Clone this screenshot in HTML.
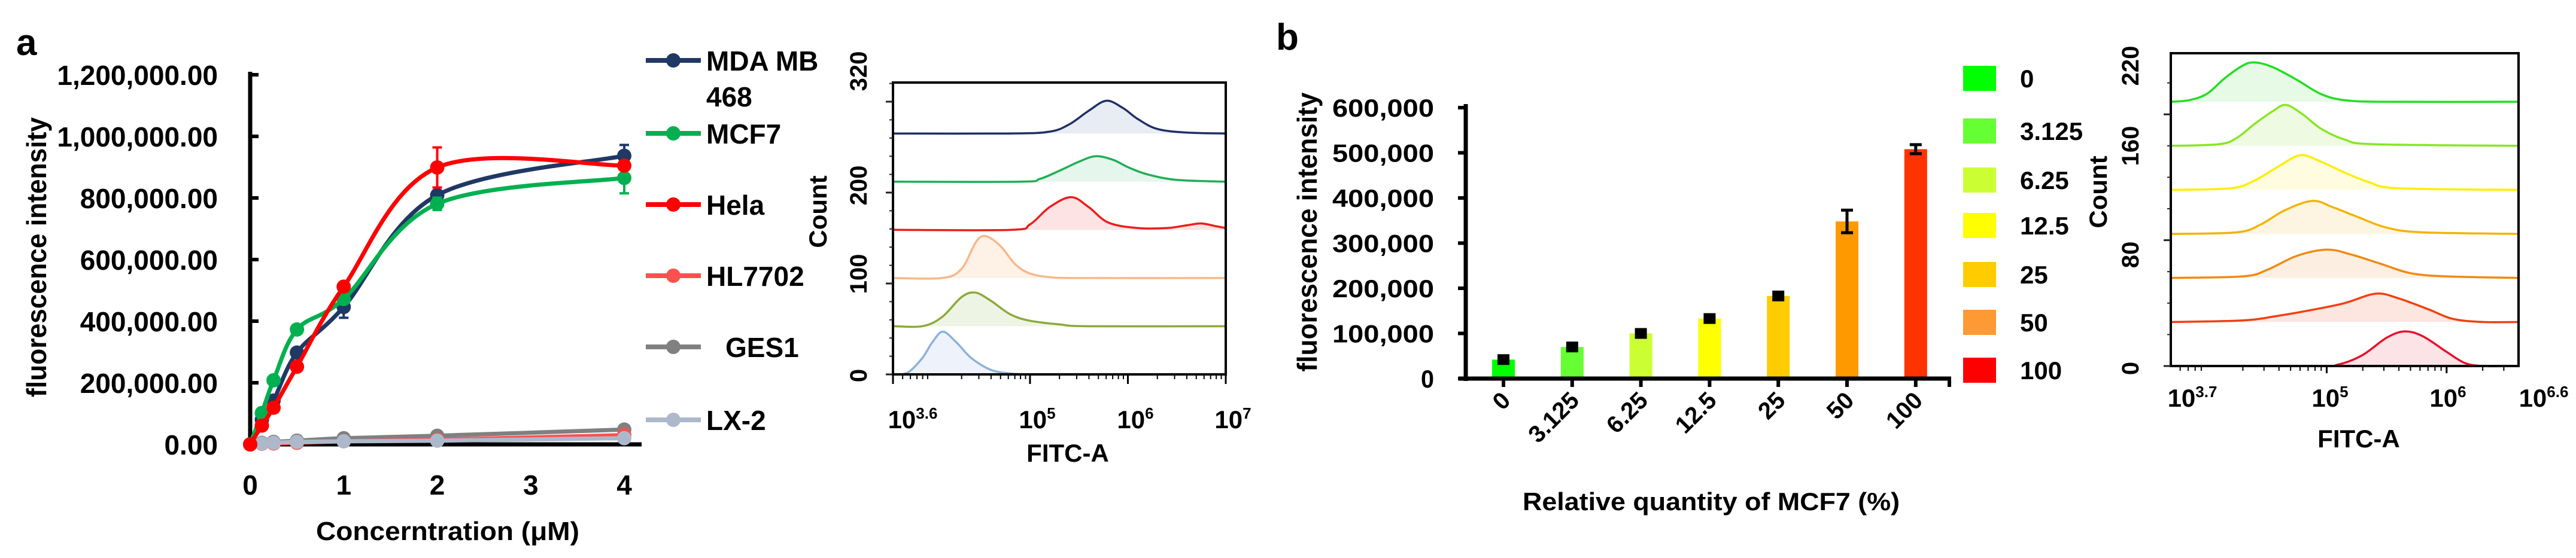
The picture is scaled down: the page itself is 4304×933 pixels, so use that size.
<!DOCTYPE html>
<html><head><meta charset="utf-8"><style>
html,body{margin:0;padding:0;background:#fff;}
svg{display:block;font-family:"Liberation Sans",sans-serif;font-weight:bold;}
</style></head><body>
<svg id="s" width="4304" height="933" viewBox="0 0 4304 933" xmlns="http://www.w3.org/2000/svg">
<text x="27" y="92" font-size="62">a</text>
<text x="2132" y="83" font-size="62">b</text>
<g id="pa"></g>
<g id="h1"></g>
<g id="pb"></g>
<g id="h2"></g>
</svg>
<script>
// ---- panel a line chart data ----
const concX = [0, 0.125, 0.25, 0.5, 1, 2, 4];
const seriesNames = ["MDA MB 468", "MCF7", "Hela", "HL7702", "GES1", "LX-2"];
const seriesColors = ["#203864", "#00b050", "#ff0000", "#ff5050", "#808080", "#adb9ca"];
const mdaVals = [0, 80000, 142000, 298000, 446000, 809000, 937000];
const mcf7Vals = [0, 102000, 208000, 373000, 472000, 781000, 865000];
const helaVals = [0, 61000, 119000, 252000, 512000, 899000, 905000];
const hl7702Vals = [0, 2000, 3000, 5000, 10000, 15000, 30000];
const ges1Vals = [0, 5000, 8000, 12000, 20000, 28000, 48000];
const lx2Vals = [0, 3000, 5000, 8000, 10000, 12000, 20000];
const mdaErr = [0, 0, 0, 0, 35000, 15000, 35000];
const mcf7Err = [0, 0, 0, 0, 0, 20000, 50000];
const helaErr = [0, 0, 0, 0, 0, 65000, 0];
const aYTicks = [0, 200000, 400000, 600000, 800000, 1000000, 1200000];
const aYTickLabels = ["0.00", "200,000.00", "400,000.00", "600,000.00", "800,000.00", "1,000,000.00", "1,200,000.00"];
const aXTicks = [0, 1, 2, 3, 4];

// ---- histogram a data: [log10 FITC, count] ----
const h1Colors = ["#1f2f66", "#1fae55", "#ee1c1c", "#f6b88a", "#8aaa3c", "#8fb0d8"];
const h1Fills = ["#e8ecf3", "#e5f6ec", "#fde3e3", "#fef1e6", "#eef4e3", "#eef3fb"];
const h1Offsets = [265, 212, 159, 106, 53, 0];
const h1Navy = [[3.6,0],[4.8,0],[5.2,2],[5.4,10],[5.6,25],[5.78,36],[5.95,28],[6.1,16],[6.3,5],[6.6,1],[7,0]];
const h1Green = [[3.6,0],[4.9,0],[5.1,3],[5.3,12],[5.5,22],[5.67,28],[5.85,24],[6.0,16],[6.2,8],[6.5,2],[7,0]];
const h1Red = [[3.6,0],[4.8,0],[5.0,6],[5.2,25],[5.42,36],[5.6,25],[5.8,8],[6.1,2],[6.4,2],[6.6,5],[6.75,7],[6.9,4],[7,2]];
const h1Peach = [[3.6,0],[4.1,0],[4.3,10],[4.45,40],[4.55,46],[4.7,35],[4.85,15],[5.0,5],[5.2,1],[5.5,0],[7,0]];
const h1Olive = [[3.6,0],[3.9,0],[4.1,10],[4.3,32],[4.44,37],[4.6,28],[4.8,13],[5.0,6],[5.3,2],[5.6,0],[7,0]];
const h1Blue = [[3.6,0],[3.75,2],[3.9,18],[4.0,35],[4.11,47],[4.25,35],[4.4,18],[4.6,5],[4.8,1],[5,0]];
const h1YTicks = [0, 100, 200, 320];

// ---- panel b bar chart data ----
const bCats = ["0", "3.125", "6.25", "12.5", "25", "50", "100"];
const bVals = [42000, 70000, 100000, 133000, 183000, 348000, 508000];
const bErr = [4000, 4000, 4000, 4000, 4000, 25000, 10000];
const bColors = ["#00ff00", "#66ff33", "#ccff33", "#ffff00", "#ffcc00", "#ff9900", "#ff3300"];
const legColors = ["#00ff00", "#66ff33", "#ccff33", "#ffff00", "#ffcc00", "#ff9933", "#ff0000"];
const bYTicks = [0, 100000, 200000, 300000, 400000, 500000, 600000];
const bYTickLabels = ["0", "100,000", "200,000", "300,000", "400,000", "500,000", "600,000"];

// ---- histogram b data ----
const h2Colors = ["#22dd22", "#88e622", "#ffee00", "#f2b400", "#f08a10", "#f04010", "#e8102a"];
const h2Fills = ["#e6fae6", "#eefbe2", "#fffce0", "#fdf4e2", "#fdeee2", "#fde6e0", "#fce3e6"];
const h2Offsets = [168, 140, 112, 84, 56, 28, 0];
const h2G = [[3.7,0],[3.85,1],[4.0,5],[4.15,15],[4.3,23],[4.4,25],[4.55,22],[4.75,14],[4.95,5],[5.15,1],[5.5,0],[6.6,0]];
const h2L = [[3.7,0],[4.1,1],[4.25,5],[4.4,14],[4.55,22],[4.66,26],[4.8,20],[4.95,11],[5.15,4],[5.4,1],[6.6,0]];
const h2Y = [[3.7,0],[4.2,1],[4.4,6],[4.6,15],[4.78,22],[4.95,18],[5.15,11],[5.35,5],[5.6,1],[6.6,0]];
const h2O = [[3.7,0],[4.25,1],[4.45,6],[4.65,15],[4.88,21],[5.05,17],[5.25,11],[5.5,4],[5.8,1],[6.6,0]];
const h2D = [[3.7,0],[4.3,1],[4.5,5],[4.75,14],[5.0,18],[5.2,15],[5.45,9],[5.7,3],[6.0,1],[6.6,0]];
const h2R = [[3.7,0],[4.3,1],[4.6,4],[4.9,8],[5.15,12],[5.41,18],[5.6,15],[5.85,8],[6.05,2],[6.3,0],[6.6,0]];
const h2Rd = [[3.7,0],[4.9,0],[5.1,1],[5.3,7],[5.5,18],[5.65,22],[5.8,19],[6.0,9],[6.15,2],[6.3,0],[6.6,0]];
const h2YTicks = [0, 80, 160, 220];

const NS = "http://www.w3.org/2000/svg";
function mk(parent, tag, attrs) {
  const e = document.createElementNS(NS, tag);
  for (const k in attrs) e.setAttribute(k, attrs[k]);
  parent.appendChild(e);
  return e;
}
function smooth(pts) {
  let d = "M" + pts[0][0].toFixed(1) + "," + pts[0][1].toFixed(1);
  for (let i = 0; i < pts.length - 1; i++) {
    const p0 = pts[i - 1] || pts[i], p1 = pts[i], p2 = pts[i + 1], p3 = pts[i + 2] || p2;
    const c1 = [p1[0] + (p2[0] - p0[0]) / 6, p1[1] + (p2[1] - p0[1]) / 6];
    const c2 = [p2[0] - (p3[0] - p1[0]) / 6, p2[1] - (p3[1] - p1[1]) / 6];
    d += " C" + c1.join(",") + " " + c2.join(",") + " " + p2.join(",");
  }
  return d;
}

// ===== Panel a =====
(function () {
  const g = document.getElementById("pa");
  const x = v => 418 + v * 156.25;
  const y = v => 743 - v / 200000 * 103;
  mk(g, "line", {x1: 418, y1: 120, x2: 418, y2: 747, stroke: "#000", "stroke-width": 7});
  mk(g, "line", {x1: 414, y1: 743, x2: 1072, y2: 743, stroke: "#000", "stroke-width": 7});
  aYTicks.forEach((t, i) => {
    const tk = mk(g, "line", {x1: 418, y1: y(t), x2: 432, y2: y(t), stroke: "#000", "stroke-width": 6});
    
    
    const lb = mk(g, "text", {x: 364, y: y(t) + 17, "font-size": 46, "text-anchor": "end"});
    lb.textContent = aYTickLabels[i];
    
    
  });
  aXTicks.forEach(t => {
    const lb = mk(g, "text", {x: x(t), y: 827, "font-size": 46, "text-anchor": "middle"});
    lb.textContent = t;
    
    
  });
  const xt = mk(g, "text", {x: 748, y: 903, "font-size": 44, "text-anchor": "middle", textLength: 440, lengthAdjust: "spacingAndGlyphs"});
  xt.textContent = "Concerntration (μM)";
  
  
  const yt = mk(g, "text", {x: 0, y: 0, "font-size": 46, "text-anchor": "middle", transform: "translate(77,430) rotate(-90)", textLength: 468, lengthAdjust: "spacingAndGlyphs"});
  yt.textContent = "fluorescence intensity";
  
  
  const allVals = [mdaVals, mcf7Vals, helaVals, hl7702Vals, ges1Vals, lx2Vals];
  const allErr = [mdaErr, mcf7Err, helaErr, null, null, null];
  const order = [4, 3, 5, 0, 1, 2];
  order.forEach(si => {
    const vals = allVals[si], col = seriesColors[si];
    const pts = concX.map((c, i) => [x(c), y(vals[i])]);
    const p = mk(g, "path", {d: smooth(pts), fill: "none", stroke: col, "stroke-width": 7});
    
    
    if (allErr[si]) allErr[si].forEach((e, i) => {
      if (!e) return;
      const cx = x(concX[i]);
      const eb = mk(g, "path", {d: `M${cx},${y(vals[i] + e)}V${y(vals[i] - e)}M${cx - 8},${y(vals[i] + e)}h16M${cx - 8},${y(vals[i] - e)}h16`, stroke: col, "stroke-width": 4, fill: "none"});
      
      
    });
    pts.forEach(pt => {
      const m = mk(g, "circle", {cx: pt[0], cy: pt[1], r: 12, fill: col});
      
      
    });
  });
  const legY = [101, 223, 342, 461, 580, 702];
  seriesNames.forEach((n, i) => {
    const lg = mk(g, "g", {});
    
    
    mk(lg, "line", {x1: 1079, y1: legY[i], x2: 1171, y2: legY[i], stroke: seriesColors[i], "stroke-width": 8});
    mk(lg, "circle", {cx: 1125, cy: legY[i], r: 12, fill: seriesColors[i]});
    if (i === 0) {
      const t1 = mk(lg, "text", {x: 1180, y: legY[i] + 17, "font-size": 46}); t1.textContent = "MDA MB";
      const t2 = mk(lg, "text", {x: 1180, y: 178, "font-size": 46}); t2.textContent = "468";
    } else {
      const t = mk(lg, "text", {x: i === 4 ? 1212 : 1180, y: legY[i] + 17, "font-size": 46}); t.textContent = n;
    }
  });
})();

function histo(gid, cfg) {
  const g = document.getElementById(gid);
  const {L, R, T, B, lmin, lmax, yZero, perCount, curves, offsets, colors, fills} = cfg;
  const x = l => L + (l - lmin) / (lmax - lmin) * (R - L);
  const y = c => yZero - c * perCount;
  curves.forEach((cv, i) => {
    const pts = cv.map(p => [x(p[0]), y(p[1] + offsets[i])]);
    const d = smooth(pts);
    const f = mk(g, "path", {d: d + ` L${pts[pts.length - 1][0]},${y(offsets[i])} L${pts[0][0]},${y(offsets[i])}Z`, fill: fills[i], stroke: "none"});
    
    
    const l = mk(g, "path", {d: d, fill: "none", stroke: colors[i], "stroke-width": 3.5});
    
    
  });
  mk(g, "rect", {x: L, y: T, width: R - L, height: B - T, fill: "none", stroke: "#000", "stroke-width": 4});
  return {g, x, y};
}

// ===== Histogram a =====
(function () {
  const h = histo("h1", {L: 1492, R: 2048, T: 138, B: 626, lmin: 3.6, lmax: 7, yZero: 626, perCount: 1.52,
    curves: [h1Navy, h1Green, h1Red, h1Peach, h1Olive, h1Blue], offsets: h1Offsets, colors: h1Colors, fills: h1Fills});
  const g = h.g;
  for (let c = 0; c <= 320; c += 20) {
    const major = c % 100 === 0;
    mk(g, "line", {x1: 1492 - (major ? 12 : 6), y1: h.y(c), x2: 1492, y2: h.y(c), stroke: "#222", "stroke-width": major ? 3 : 2});
  }
  const lblY = [628, 458, 310, 119];
  h1YTicks.forEach((t, i) => {
    const lb = mk(g, "text", {x: 0, y: 0, "font-size": 40, "text-anchor": "middle", transform: `translate(1448,${lblY[i]}) rotate(-90)`});
    lb.textContent = t;
    
    
  });
  [5, 6, 7].forEach(d => mk(g, "line", {x1: h.x(d), y1: 626, x2: h.x(d), y2: 642, stroke: "#000", "stroke-width": 3}));
  mk(g, "line", {x1: 1492, y1: 626, x2: 1492, y2: 642, stroke: "#000", "stroke-width": 3});
  for (let d = 3; d <= 6; d++) for (let k = 2; k <= 9; k++) {
    const l = d + Math.log10(k);
    if (l > 3.6 && l < 7) mk(g, "line", {x1: h.x(l), y1: 626, x2: h.x(l), y2: 634, stroke: "#000", "stroke-width": 2});
  }
  const xl = [["3.6", 1525], ["5", 1733], ["6", 1897], ["7", 2060]];
  xl.forEach(a => {
    const t = mk(g, "text", {x: a[1], y: 716, "font-size": 42, "text-anchor": "middle"});
    t.innerHTML = `10<tspan dy="-16" font-size="26">${a[0]}</tspan>`;
    
    
  });
  const xt = mk(g, "text", {x: 1784, y: 772, "font-size": 42, "text-anchor": "middle"}); xt.textContent = "FITC-A";
  
  
  const ct = mk(g, "text", {x: 0, y: 0, "font-size": 42, "text-anchor": "middle", transform: "translate(1381,354) rotate(-90)"}); ct.textContent = "Count";
  
  
})();

// ===== Panel b bar chart =====
(function () {
  const g = document.getElementById("pb");
  const x = i => 2512 + i * 114.8;
  const y = v => 633 - v / 100000 * 75.5;
  bCats.forEach((c, i) => {
    const b = mk(g, "rect", {x: x(i) - 19, y: y(bVals[i]), width: 38, height: 633 - y(bVals[i]), fill: bColors[i]});
    
    
    const e = bErr[i], cx = x(i);
    const eb = mk(g, "path", {d: `M${cx},${y(bVals[i] + e)}V${y(bVals[i] - e)}M${cx - 10},${y(bVals[i] + e)}h20M${cx - 10},${y(bVals[i] - e)}h20`, stroke: "#000", "stroke-width": e > 5000 ? 5 : 12, fill: "none"});
    
    
    mk(g, "line", {x1: cx, y1: 633, x2: cx, y2: 647, stroke: "#000", "stroke-width": 6});
    const lb = mk(g, "text", {x: 0, y: 0, "font-size": 40, "text-anchor": "end", transform: `translate(${cx + 14},${672}) rotate(-45)`});
    lb.textContent = c;
    
    
  });
  mk(g, "line", {x1: 2449, y1: 174, x2: 2449, y2: 637, stroke: "#000", "stroke-width": 7});
  mk(g, "line", {x1: 2437, y1: 633, x2: 3260, y2: 633, stroke: "#000", "stroke-width": 7});
  mk(g, "line", {x1: 3257, y1: 633, x2: 3257, y2: 647, stroke: "#000", "stroke-width": 6});
  bYTicks.forEach((t, i) => {
    mk(g, "line", {x1: 2436, y1: y(t), x2: 2449, y2: y(t), stroke: "#000", "stroke-width": 6});
    const lb = mk(g, "text", {x: 2396, y: y(t) + 15, "font-size": 42, "text-anchor": "end", textLength: i ? 170 : 22, lengthAdjust: "spacingAndGlyphs"});
    lb.textContent = bYTickLabels[i];
    
    
  });
  const yt = mk(g, "text", {x: 0, y: 0, "font-size": 46, "text-anchor": "middle", transform: "translate(2200,388) rotate(-90)", textLength: 467, lengthAdjust: "spacingAndGlyphs"});
  yt.textContent = "fluorescence intensity";
  
  
  const xt = mk(g, "text", {x: 2859, y: 853, "font-size": 42, "text-anchor": "middle", textLength: 630, lengthAdjust: "spacingAndGlyphs"});
  xt.textContent = "Relative quantity of MCF7 (%)";
  
  
  const legYc = [131, 219, 301, 377, 459, 539, 619];
  bCats.forEach((c, i) => {
    const lg = mk(g, "g", {});
    
    
    mk(lg, "rect", {x: 3280, y: legYc[i] - 21, width: 55, height: 42, fill: legColors[i]});
    const t = mk(lg, "text", {x: 3375, y: legYc[i] + 15, "font-size": 42}); t.textContent = c;
  });
})();

// ===== Histogram b =====
(function () {
  const h = histo("h2", {L: 3627, R: 4208, T: 89, B: 612, lmin: 3.7, lmax: 6.6, yZero: 612, perCount: 2.63,
    curves: [h2G, h2L, h2Y, h2O, h2D, h2R, h2Rd], offsets: h2Offsets, colors: h2Colors, fills: h2Fills});
  const g = h.g;
  for (let c = 0; c <= 190; c += 20) {
    const major = c % 80 === 0;
    mk(g, "line", {x1: 3627 - (major ? 12 : 6), y1: h.y(c), x2: 3627, y2: h.y(c), stroke: "#222", "stroke-width": major ? 3 : 2});
  }
  const lblY = [616, 426, 244, 110];
  h2YTicks.forEach((t, i) => {
    const lb = mk(g, "text", {x: 0, y: 0, "font-size": 40, "text-anchor": "middle", transform: `translate(3573,${lblY[i]}) rotate(-90)`});
    lb.textContent = t;
    
    
  });
  [5, 6].forEach(d => mk(g, "line", {x1: h.x(d), y1: 612, x2: h.x(d), y2: 624, stroke: "#000", "stroke-width": 3}));
  for (let d = 3; d <= 6; d++) for (let k = 2; k <= 9; k++) {
    const l = d + Math.log10(k);
    if (l > 3.7 && l < 6.6) mk(g, "line", {x1: h.x(l), y1: 612, x2: h.x(l), y2: 620, stroke: "#000", "stroke-width": 2});
  }
  const xl = [["3.7", 3663], ["5", 3893], ["6", 4090], ["6.6", 4250]];
  xl.forEach(a => {
    const t = mk(g, "text", {x: a[1], y: 680, "font-size": 42, "text-anchor": "middle"});
    t.innerHTML = `10<tspan dy="-16" font-size="26">${a[0]}</tspan>`;
    
    
  });
  const xt = mk(g, "text", {x: 3941, y: 748, "font-size": 42, "text-anchor": "middle"}); xt.textContent = "FITC-A";
  
  
  const ct = mk(g, "text", {x: 0, y: 0, "font-size": 42, "text-anchor": "middle", transform: "translate(3520,321) rotate(-90)"}); ct.textContent = "Count";
  
  
})();
</script>
</body></html>
